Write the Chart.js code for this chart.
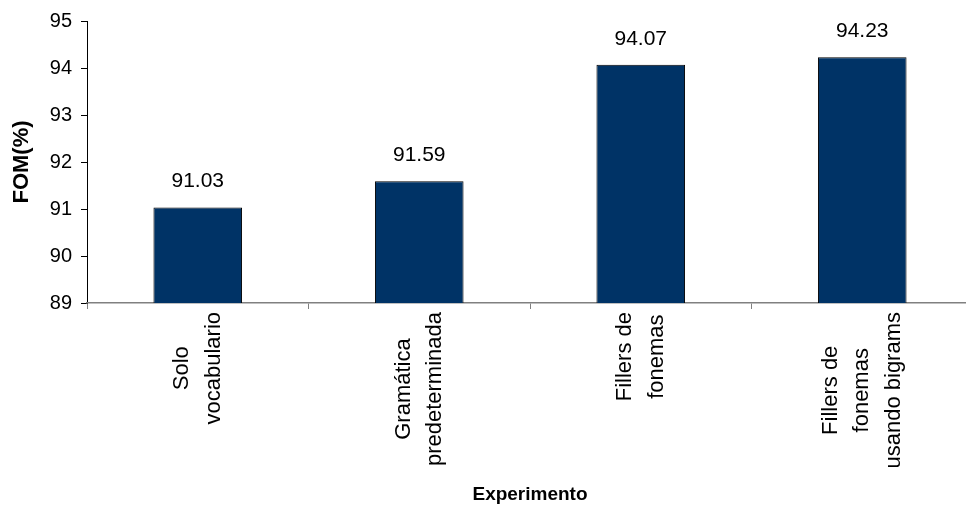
<!DOCTYPE html>
<html>
<head>
<meta charset="utf-8">
<script src="https://cdn.jsdelivr.net/npm/chart.js@4"></script>
<style>
  html, body { margin: 0; padding: 0; background: #fff; overflow: hidden; }
  #wrap { position: absolute; left: 0; top: 0; width: 975px; height: 509px; }
</style>
</head>
<body>
<div id="wrap"><canvas id="chart"></canvas></div>
<script>
const categories = [
  ["Solo", "vocabulario"],
  ["Gramática", "predeterminada"],
  ["Fillers de", "fonemas"],
  ["Fillers de", "fonemas", "usando bigrams"]
]
const fomValues = [91.03, 91.59, 94.07, 94.23]
const yTicks = [89, 90, 91, 92, 93, 94, 95]

const FONT = "'Liberation Sans', Arial, sans-serif"

// value labels above the bars and centred multi-line category labels
const labelPlugin = {
  id: "barLabels",
  afterDraw(chart) {
    const ctx = chart.ctx
    const xScale = chart.scales.x
    const meta = chart.getDatasetMeta(0)
    ctx.save()
    ctx.fillStyle = "#000"
    ctx.textAlign = "center"
    ctx.textBaseline = "middle"

    ctx.font = "21px " + FONT
    meta.data.forEach((bar, i) => {
      ctx.fillText(fomValues[i].toFixed(2), bar.x, bar.y - 26)
    })

    ctx.font = "22px " + FONT
    categories.forEach((lines, i) => {
      const cx = xScale.getPixelForValue(i)
      const longest = Math.max(...lines.map(l => ctx.measureText(l).width))
      const cy = xScale.top + 9 + longest / 2
      lines.forEach((line, j) => {
        ctx.save()
        ctx.translate(cx + (j - (lines.length - 1) / 2) * 31.5, cy)
        ctx.rotate(-Math.PI / 2)
        ctx.fillText(line, 0, 0)
        ctx.restore()
      })
    })
    ctx.restore()
  }
}

new Chart(document.getElementById("chart"), {
  type: "bar",
  data: {
    labels: categories,
    datasets: [{
      data: fomValues,
      backgroundColor: "#003366",
      borderColor: "#000",
      borderWidth: 1,
      barPercentage: 0.4,
      categoryPercentage: 1
    }]
  },
  options: {
    responsive: true,
    maintainAspectRatio: false,
    animation: false,
    layout: { padding: { top: 20, right: 2, left: 0, bottom: 0 } },
    plugins: {
      legend: { display: false },
      tooltip: { enabled: false }
    },
    scales: {
      y: {
        min: yTicks[0],
        max: yTicks[yTicks.length - 1],
        afterFit(scale) { scale.width = 87 },
        ticks: {
          stepSize: 1,
          color: "#000",
          padding: 9,
          font: { family: FONT, size: 20 }
        },
        grid: { drawOnChartArea: false, color: "#000", tickLength: 6 },
        border: { color: "#000", width: 1 },
        title: {
          display: true,
          text: "FOM(%)",
          color: "#000",
          padding: { top: 9, bottom: 0 },
          font: { family: FONT, size: 22, weight: "bold" }
        }
      },
      x: {
        afterFit(scale) { scale.height = 206 },
        ticks: { display: false },
        grid: { drawOnChartArea: false, color: "#808080", tickLength: 6 },
        border: { color: "#808080", width: 1.5 },
        title: {
          display: true,
          text: "Experimento",
          color: "#000",
          padding: { top: 0, bottom: 3 },
          font: { family: FONT, size: 19, weight: "bold" }
        }
      }
    }
  },
  plugins: [labelPlugin]
})
</script>
</body>
</html>
